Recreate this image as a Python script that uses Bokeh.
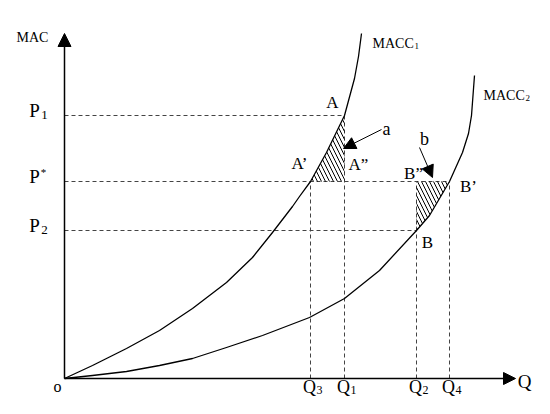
from bokeh.plotting import figure
from bokeh.models import Range1d, Arrow, NormalHead
from bokeh.core.properties import value
from bokeh.embed import file_html
from bokeh.resources import INLINE

# ---- data (conceptual units) ----
macc1_q = [0, 28, 62, 95, 128, 162, 188, 208, 228, 235, 246, 262, 280, 290, 294, 297]
macc1_mac = [0, 13, 30, 48, 70, 96, 121, 146, 172, 182, 197, 226, 263, 300, 322, 345]
macc2_q = [0, 28, 62, 95, 128, 162, 198, 245, 280, 315, 352, 365, 385, 398, 404, 407, 410]
macc2_mac = [0, 3, 7, 13, 20, 31, 43, 61, 80, 108, 148, 163, 197, 226, 245, 263, 303]

price_subs = ["1", "*", "2"]
price_levels = [263, 197, 148]          # P1, P*, P2
price_line_ends = [280, 385, 352]       # dashed to Q1, Q4, Q2

qty_subs = ["3", "1", "2", "4"]
qty_positions = [246, 280, 352, 385]    # Q3, Q1, Q2, Q4
qty_line_tops = [197, 263, 197, 197]

FONT = value("Liberation Serif")

p = figure(width=534, height=398, output_backend="svg", toolbar_location=None,
           x_range=Range1d(-64, 470), y_range=Range1d(-20, 378),
           min_border=0, min_border_left=0, min_border_right=0,
           min_border_top=0, min_border_bottom=0)
p.axis.visible = False
p.grid.visible = False
p.outline_line_color = None

# dashed guide lines
p.segment(x0=[0] * 3, y0=price_levels, x1=price_line_ends, y1=price_levels,
          line_color="#444444", line_width=1, line_dash="4 3")
p.segment(x0=qty_positions, y0=[0] * 4, x1=qty_positions, y1=qty_line_tops,
          line_color="#444444", line_width=1, line_dash="4 3")

# hatched areas
q3, q1, q2, q4 = qty_positions
p1, ps, p2 = price_levels
ax = [q for q in macc1_q if q3 <= q <= q1]
ay = [m for q, m in zip(macc1_q, macc1_mac) if q3 <= q <= q1]
p.patch(ax + [q1], ay + [ps], fill_alpha=0, line_color=None,
        hatch_pattern="\\", hatch_scale=8, hatch_weight=1, hatch_color="black")
bx = [q for q in macc2_q if q2 <= q <= q4]
by = [m for q, m in zip(macc2_q, macc2_mac) if q2 <= q <= q4]
p.patch(bx + [q2], by + [ps], fill_alpha=0, line_color=None,
        hatch_pattern="\\", hatch_scale=8, hatch_weight=1, hatch_color="black")

# curves
p.line(macc1_q, macc1_mac, line_color="black", line_width=1.3, line_join="round")
p.line(macc2_q, macc2_mac, line_color="black", line_width=1.3, line_join="round")

# axes with arrow heads
p.add_layout(Arrow(end=NormalHead(size=13, fill_color="black", line_color="black"),
                   x_start=0, y_start=0, x_end=0, y_end=345,
                   line_width=1.5, line_color="black"))
p.add_layout(Arrow(end=NormalHead(size=12, fill_color="black", line_color="black"),
                   x_start=0, y_start=0, x_end=451, y_end=0,
                   line_width=1.5, line_color="black"))

# pointer arrows a and b
p.add_layout(Arrow(end=NormalHead(size=12, fill_color="black", line_color="black"),
                   x_start=317, y_start=249, x_end=279, y_end=230,
                   line_width=1, line_color="black"))
p.add_layout(Arrow(end=NormalHead(size=12, fill_color="black", line_color="black"),
                   x_start=355, y_start=231, x_end=368, y_end=201,
                   line_width=1, line_color="black"))

def txt(x, y, t, size, align="center"):
    p.text(x=[x], y=[y], text=[t], text_font=FONT, text_font_size=size,
           text_align=align, text_baseline="middle", text_color="black")

# price labels
for s, lv in zip(price_subs, price_levels):
    txt(-30, lv + 5, "P", "19px")
    if s == "*":
        txt(-21, lv + 10, "*", "11px")
    else:
        txt(-20, lv + 1, s, "13px")

# quantity labels
for s, qv in zip(qty_subs, qty_positions):
    txt(qv - 1, -8, "Q", "18px")
    txt(qv + 9, -11, s, "12px")

txt(-7, -8, "o", "16px")
txt(-32, 341, "MAC", "14px")
txt(460, -3, "Q", "19px")

txt(308, 335, "MACC", "14px", align="left")
txt(350, 333, "1", "9px", align="left")
txt(419, 283, "MACC", "14px", align="left")
txt(461, 281, "2", "9px", align="left")

txt(268, 276, "A", "17px")
txt(235, 215, "A’", "17px")
txt(294, 214, "A”", "17px")
txt(322, 250, "a", "18px")
txt(360, 240, "b", "18px")
txt(349, 205, "B”", "17px")
txt(404, 192, "B’", "17px")
txt(363, 136, "B", "17px")

open("out.html", "w").write(file_html(p, INLINE))
